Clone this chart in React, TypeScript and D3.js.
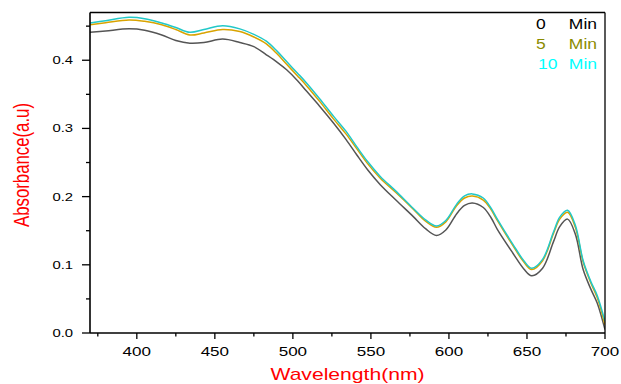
import React from "react";
import * as d3 from "d3";

const width = 621;
const height = 384;
const margin = { top: 12.5, right: 16, bottom: 51, left: 90 };

// wavelength (nm)
const wavelength = [
  370, 380, 395, 405, 416, 425, 434, 443, 455, 466, 475, 483, 490, 496, 503,
  509, 517, 526, 534, 541, 548, 556, 566, 577, 585, 592, 598, 605, 610, 615,
  622, 627, 631, 641, 648, 653, 660, 667, 671, 676, 681, 686, 691, 695, 700
];

const min0 = [
  0.441, 0.443, 0.446, 0.444, 0.437, 0.429, 0.425, 0.426, 0.431, 0.426, 0.42,
  0.408, 0.397, 0.386, 0.37, 0.354, 0.333, 0.308, 0.284, 0.261, 0.239, 0.2175,
  0.195, 0.171, 0.153, 0.143, 0.151, 0.175, 0.187, 0.1906, 0.184, 0.169, 0.152,
  0.117, 0.094, 0.084, 0.095, 0.134, 0.156, 0.167, 0.145, 0.093, 0.064, 0.044,
  0.005
];

const min5 = [
  0.452, 0.455, 0.459, 0.457, 0.452, 0.445, 0.437, 0.44, 0.445, 0.442, 0.434,
  0.424, 0.409, 0.394, 0.377, 0.362, 0.34, 0.314, 0.292, 0.27, 0.248, 0.227,
  0.206, 0.182, 0.164, 0.155, 0.163, 0.187, 0.198, 0.201, 0.195, 0.181, 0.165,
  0.128, 0.104, 0.093, 0.106, 0.146, 0.167, 0.177, 0.155, 0.104, 0.073, 0.052,
  0.012
];

const min10 = [
  0.4545, 0.458, 0.463, 0.461, 0.4545, 0.448, 0.441, 0.445, 0.4506, 0.446,
  0.438, 0.428, 0.413, 0.398, 0.381, 0.366, 0.344, 0.318, 0.296, 0.273, 0.251,
  0.2296, 0.208, 0.183, 0.166, 0.157, 0.165, 0.189, 0.201, 0.204, 0.198, 0.183,
  0.167, 0.13, 0.106, 0.095, 0.108, 0.148, 0.17, 0.18, 0.158, 0.106, 0.075,
  0.055, 0.017
];

const legendNums = ["0", "5", "10"];
const lineColors = ["#555555", "#d9a300", "#22c8c8"];
const legendColors = ["#000000", "#8b8b00", "#00ffff"];

const xMajor = [400, 450, 500, 550, 600, 650, 700];
const xMinor = [375, 425, 475, 525, 575, 625, 675];
const yMajor = [0, 0.1, 0.2, 0.3, 0.4];
const yMinor = [0.05, 0.15, 0.25, 0.35, 0.45];

const font = "'Liberation Sans', Arial, sans-serif";
// the source picture is stretched sideways, so its text is too
const stretch = 1.35;

export default function App() {
  const x = d3
    .scaleLinear()
    .domain([370, 700])
    .range([margin.left, width - margin.right]);
  const y = d3
    .scaleLinear()
    .domain([0, 0.47])
    .range([height - margin.bottom, margin.top]);

  const line = d3
    .line<number>()
    .x((d, i) => x(wavelength[i]))
    .y(d => y(d))
    .curve(d3.curveCatmullRom.alpha(0.5));

  const series = [min0, min5, min10];
  const [x0, x1] = x.range();
  const [y0, y1] = y.range();

  return (
    <svg
      width={width}
      height={height}
      style={{ position: "absolute", left: 0, top: 0, background: "#fff" }}
    >
      <defs>
        <clipPath id="plot">
          <rect x={x0} y={y1} width={x1 - x0} height={y0 - y1} />
        </clipPath>
      </defs>
      <rect width={width} height={height} fill="#fff" />

      <g clipPath="url(#plot)">
        {series.map((s, i) => (
          <path
            key={i}
            d={line(s) || ""}
            fill="none"
            stroke={lineColors[i]}
            strokeWidth={1.5}
          />
        ))}
      </g>

      {/* frame */}
      <line x1={x0} x2={x1} y1={y1} y2={y1} stroke="#000" strokeWidth={1.3} />
      <line x1={x1} x2={x1} y1={y1} y2={y0} stroke="#000" strokeWidth={1.3} />
      <line x1={x0} x2={x1} y1={y0} y2={y0} stroke="#000" strokeWidth={1.6} />
      <line x1={x0} x2={x0} y1={y1} y2={y0} stroke="#000" strokeWidth={1.6} />

      {/* x ticks */}
      {xMajor.map(t => (
        <g key={"xm" + t}>
          <line x1={x(t)} x2={x(t)} y1={y0} y2={y0 + 6} stroke="#000" strokeWidth={1.3} />
          <text
            transform={`translate(${x(t)},356) scale(1.42,1)`}
            textAnchor="middle"
            fontFamily={font}
            fontSize={12}
          >
            {t}
          </text>
        </g>
      ))}
      {xMinor.map(t => (
        <line key={"xn" + t} x1={x(t)} x2={x(t)} y1={y0} y2={y0 + 3.5} stroke="#000" strokeWidth={1.3} />
      ))}

      {/* y ticks */}
      {yMajor.map(t => (
        <g key={"ym" + t}>
          <line x1={x0 - 8} x2={x0} y1={y(t)} y2={y(t)} stroke="#000" strokeWidth={1.3} />
          <text
            transform={`translate(73,${y(t) + 4}) scale(${stretch},1)`}
            textAnchor="end"
            fontFamily={font}
            fontSize={11}
          >
            {t.toFixed(1)}
          </text>
        </g>
      ))}
      {yMinor.map(t => (
        <line key={"yn" + t} x1={x0 - 4} x2={x0} y1={y(t)} y2={y(t)} stroke="#000" strokeWidth={1.3} />
      ))}

      {/* axis titles */}
      <text
        transform={`translate(${(x0 + x1) / 2},380) scale(1.32,1)`}
        textAnchor="middle"
        fontFamily={font}
        fontSize={16}
        fill="#ff0000"
      >
        Wavelength(nm)
      </text>
      <text
        transform={`translate(29,165) scale(${stretch},1) rotate(-90)`}
        textAnchor="middle"
        fontFamily={font}
        fontSize={16.8}
        fill="#ff0000"
      >
        Absorbance(a.u)
      </text>

      {/* legend */}
      {legendNums.map((n, i) => (
        <g key={n} fill={legendColors[i]} fontFamily={font} fontSize={14}>
          <text transform={`translate(${i === 2 ? 538 : 536},${29.3 + i * 19.7}) scale(1.25,1)`}>
            {n}
          </text>
          <text
            transform={`translate(597,${29.3 + i * 19.7}) scale(1.25,1)`}
            textAnchor="end"
          >
            Min
          </text>
        </g>
      ))}
    </svg>
  );
}
